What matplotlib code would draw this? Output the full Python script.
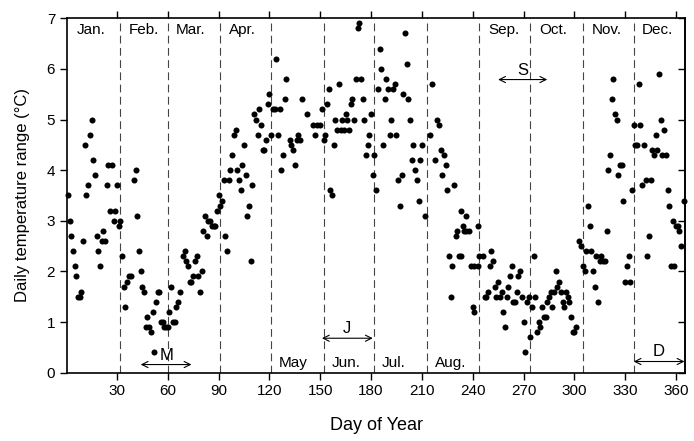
import matplotlib
matplotlib.use("Agg")
import matplotlib.pyplot as plt

plt.rcParams['font.family'] = ['Liberation Sans', 'DejaVu Sans']

# Daily temperature range (deg C) by day of year
days_jan_mar = [1, 2, 3, 4, 5, 6, 7, 8, 9, 10, 11, 12, 13, 14, 15, 16, 17, 18, 19, 20,
                21, 22, 23, 24, 25, 26, 27, 28, 29, 30, 31, 32, 33, 34, 35, 36, 37, 38,
                40, 41, 42, 43, 44, 45, 46, 47, 48, 49, 50, 51, 52, 53, 54, 55, 56, 57,
                58, 59, 60, 61, 62, 63, 64, 65, 66, 67, 69, 70, 71, 72, 73, 74, 75, 76,
                77, 78, 79, 80, 81, 82, 83, 84, 85, 86, 87, 88, 89, 90]
dtr_jan_mar = [3.5, 3.0, 2.7, 2.4, 2.1, 1.9, 1.5, 1.5, 1.6, 2.6, 4.5, 3.5, 3.7, 4.7, 5.0, 4.2,
               3.9, 2.7, 2.4, 2.1, 2.6, 2.8, 2.6, 3.7, 4.1, 3.2, 4.1, 3.0, 3.2, 3.7, 2.9, 3.0,
               2.3, 1.7, 1.3, 1.8, 1.9, 1.9, 3.8, 4.0, 3.1, 2.4, 2.0, 1.7, 1.6, 0.9, 1.1, 0.9,
               0.8, 1.2, 0.4, 1.4, 1.6, 1.6, 1.0, 1.0, 0.9, 0.9, 0.9, 1.2, 1.7, 1.0, 1.0, 1.3,
               1.4, 1.6, 2.3, 2.4, 2.2, 2.1, 1.8, 1.8, 1.9, 2.2, 2.3, 1.9, 1.6, 2.0, 2.8, 3.1,
               2.7, 3.0, 3.0, 2.9, 2.9, 2.9, 3.2, 3.5]

days_apr_jun = [91, 92, 93, 94, 95, 96, 97, 98, 99, 100, 101, 102, 103, 104, 105, 106, 107,
                108, 109, 110, 111, 112, 113, 114, 115, 116, 117, 118, 119, 120, 121, 122,
                123, 124, 125, 126, 127, 128, 129, 130, 132, 133, 134, 135, 136, 137, 138,
                139, 142, 146, 147, 148, 150, 151, 152, 153, 154, 155, 156, 157, 158, 159,
                160, 161, 162, 163, 164, 165, 166, 167, 168, 169, 170, 171, 172, 173, 174,
                175, 176, 177, 178, 179, 180, 181]
dtr_apr_jun = [3.3, 3.4, 3.8, 2.7, 2.4, 3.8, 4.0, 4.3, 4.7, 4.8, 4.0, 3.8, 3.6, 4.1, 4.5, 3.9,
               3.1, 3.3, 2.2, 3.7, 5.1, 5.0, 4.7, 5.2, 4.9, 4.4, 4.4, 4.6, 5.3, 5.5, 4.7, 5.2,
               5.2, 6.2, 4.7, 5.2, 4.0, 4.3, 5.4, 5.8, 4.6, 4.5, 4.4, 4.1, 4.6, 4.7, 4.6, 5.4,
               5.1, 4.9, 4.7, 4.9, 4.9, 5.2, 4.6, 4.7, 5.3, 5.6, 3.6, 3.5, 4.5, 5.0, 4.8, 5.7,
               4.8, 5.0, 4.8, 5.1, 5.0, 4.8, 5.3, 5.4, 5.0, 5.8, 6.8, 6.9, 5.8, 5.4, 5.0, 4.3,
               4.5, 4.7, 5.1, 3.9]

days_jul_sep = [182, 183, 184, 185, 186, 187, 188, 189, 190, 191, 192, 193, 194, 195, 196,
                197, 198, 199, 200, 201, 202, 203, 204, 205, 206, 207, 208, 209, 210, 212,
                215, 216, 218, 219, 220, 221, 222, 223, 224, 225, 226, 227, 228, 229, 230,
                231, 232, 233, 233, 234, 235, 236, 236, 238, 239, 240, 241, 241, 243, 243,
                244, 246, 247, 248, 249, 250, 251, 252, 253, 254, 255, 256, 257, 258, 259,
                260, 261, 262, 263, 264, 265, 266, 267, 268, 269, 270, 271, 272, 273]
dtr_jul_sep = [4.3, 3.6, 5.6, 6.4, 6.0, 4.5, 5.4, 5.8, 5.6, 4.7, 5.0, 5.6, 5.7, 4.7, 3.8,
               3.3, 3.9, 5.5, 6.7, 6.1, 5.4, 5.0, 4.2, 4.5, 4.0, 3.8, 3.4, 4.2, 4.5, 3.1,
               4.7, 5.7, 4.2, 5.0, 4.9, 4.4, 3.9, 4.3, 4.1, 3.6, 2.3, 1.5, 2.1, 3.7, 2.7,
               2.8, 2.3, 2.3, 3.2, 2.9, 2.8, 2.8, 3.1, 2.8, 2.1, 1.3, 1.2, 2.1, 2.1, 2.9,
               2.3, 2.3, 1.5, 1.5, 1.6, 2.1, 2.4, 2.2, 1.7, 1.5, 1.8, 1.5, 1.6, 1.2, 0.9,
               1.5, 1.7, 1.9, 2.1, 1.4, 1.4, 1.6, 1.9, 2.0, 1.5, 1.0, 0.4, 1.4, 1.5]

days_oct_dec = [274, 275, 276, 277, 278, 279, 280, 281, 282, 283, 284, 285, 286, 287, 288,
                289, 290, 291, 292, 293, 294, 295, 296, 297, 298, 299, 300, 301, 303, 304,
                305, 306, 307, 308, 309, 310, 311, 312, 313, 314, 315, 316, 317, 318, 319,
                320, 321, 322, 323, 324, 325, 326, 327, 328, 329, 330, 331, 332, 333, 334,
                335, 336, 337, 338, 339, 340, 341, 342, 343, 344, 345, 346, 347, 348, 349,
                350, 351, 352, 353, 354, 355, 356, 357, 358, 359, 360, 361, 362, 363, 365]
dtr_oct_dec = [0.7, 1.3, 2.3, 1.5, 0.8, 1.0, 0.9, 1.3, 1.1, 1.1, 1.4, 1.5, 1.6, 1.3, 1.6,
               2.0, 1.7, 1.8, 1.6, 1.4, 1.3, 1.6, 1.5, 1.4, 1.1, 0.8, 0.8, 0.9, 2.6, 2.5,
               2.1, 2.0, 2.4, 3.3, 2.9, 2.4, 2.0, 1.7, 2.3, 1.4, 2.2, 2.3, 2.2, 2.2, 2.8,
               4.0, 4.3, 5.4, 5.8, 5.1, 5.0, 3.9, 4.1, 4.1, 3.4, 1.8, 2.1, 2.3, 1.8, 3.6,
               4.9, 4.5, 4.5, 5.7, 4.9, 3.7, 4.5, 3.8, 2.3, 2.7, 3.8, 4.4, 4.3, 4.7, 4.4,
               5.9, 5.0, 4.3, 4.8, 4.3, 3.6, 3.3, 2.1, 3.0, 2.1, 2.9, 2.9, 2.8, 2.5, 3.4]

days = days_jan_mar + days_apr_jun + days_jul_sep + days_oct_dec
dtr = dtr_jan_mar + dtr_apr_jun + dtr_jul_sep + dtr_oct_dec

# first day of each month from Feb to Dec
month_starts = [32, 60, 91, 121, 152, 182, 213, 244, 274, 305, 335]
top_months = ['Jan.', 'Feb.', 'Mar.', 'Apr.', 'Sep.', 'Oct.', 'Nov.', 'Dec.']
top_month_x = [1, 32, 60, 91, 244, 274, 305, 335]
bottom_months = ['May', 'Jun.', 'Jul.', 'Aug.']
bottom_month_x = [121, 152, 182, 213]

# seasonal spans marked with double arrows: label, start, end, height
spans = [('M', 44, 74, 0.16), ('J', 151, 181, 0.68), ('S', 255, 284, 5.79), ('D', 335, 365, 0.22)]

fig = plt.figure(figsize=(6.94, 4.41), dpi=100)
ax = fig.add_axes([0.0965, 0.155, 0.891, 0.8035])

for d in month_starts:
    ax.axvline(d, color='#444444', lw=0.8, dashes=(7, 4), zorder=1)

ax.scatter(days, dtr, s=19, color='black', zorder=3, clip_on=False, linewidths=0)

for name, x0 in zip(top_months, top_month_x):
    ax.text(x0 + 5, 6.76, name, ha='left', va='center', fontsize=11)
for name, x0 in zip(bottom_months, bottom_month_x):
    ax.text(x0 + 4.5, 0.2, name, ha='left', va='center', fontsize=11)

for name, x0, x1, yv in spans:
    ax.annotate('', xy=(x1, yv), xytext=(x0, yv),
                arrowprops=dict(arrowstyle='<->', lw=0.8, color='black',
                                shrinkA=0, shrinkB=0, mutation_scale=11))
    ax.text((x0 + x1) / 2, yv + 0.04, name, ha='center', va='bottom', fontsize=12)

ax.set_xlim(0.5, 365.5)
ax.set_ylim(0, 7)
ax.set_xticks(range(30, 361, 30))
ax.set_yticks(range(0, 8))
ax.tick_params(axis='both', labelsize=11, length=5, width=1, direction='out')
ax.tick_params(axis='x', top=True)

# right-hand ticks point into the plot
ax_r = ax.secondary_yaxis('right')
ax_r.set_yticks(range(0, 8))
ax_r.tick_params(direction='in', length=5, width=1, labelright=False)
ax_r.spines['right'].set_linewidth(1.2)

for sp in ax.spines.values():
    sp.set_linewidth(1.2)

ax.set_xlabel('Day of Year', fontsize=13, labelpad=13)
ax.set_ylabel('Daily temperature range (°C)', fontsize=12, labelpad=12)

fig.savefig('out.png', dpi=100)
